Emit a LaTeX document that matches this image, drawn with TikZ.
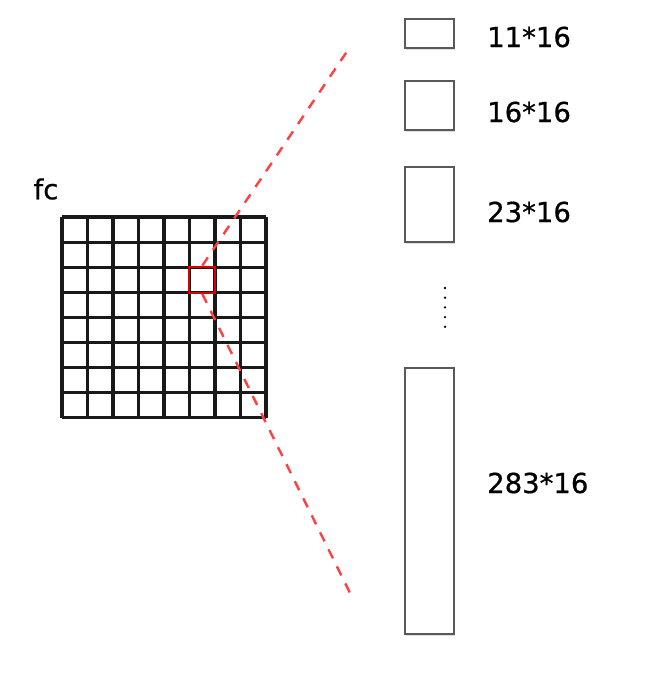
\documentclass[tikz,border=0pt]{standalone}
\usepackage{fontspec}
\setmainfont{DejaVu Sans}
\newfontfamily\lblfont{DejaVu Sans}[FakeBold=0.7]
\usetikzlibrary{positioning, shadows}

\begin{document}
\begin{tikzpicture}[x=1pt, y=-1pt,
    gridline/.style={line width=3.1pt, black!90},
    focus/.style={draw=red!85!black, line width=2.2pt, minimum size=26pt, inner sep=0pt},
    zoomline/.style={dashed, dash pattern=on 10pt off 9pt, line width=2.4pt, red!75!white},
    fcbox/.style={draw=black!65, line width=1.8pt, fill=white, minimum width=49pt, inner sep=0pt,
        drop shadow={shadow xshift=0.6pt, shadow yshift=-1.6pt, opacity=0.25}},
    lbl/.style={anchor=west, inner sep=0pt, font=\lblfont\fontsize{27.5}{32}\selectfont},
    dot/.style={fill=black, circle, minimum size=2.6pt, inner sep=0pt}
]
\useasboundingbox (0,0) rectangle (650,674);
\def\xGrid{62}
\def\yGrid{217}
\def\cellW{25.5}
\def\cellH{25.1}
\def\xBox{429.5}
\def\xLbl{487}

% fc map label
\node[lbl, anchor=center] (fc) at (46,189) {fc};

% 8x8 grid
\foreach \i in {0,...,8} {
    \draw[gridline] (\xGrid + \i*\cellW, \yGrid) -- ++(0, 8*\cellH);
    \draw[gridline] (\xGrid, \yGrid + \i*\cellH) -- ++(8*\cellW, 0);
}

% highlighted cell
\node[focus] (hot) at (\xGrid + 5.5*\cellW, \yGrid + 2.5*\cellH) {};

% zoom lines
\coordinate (topEnd) at (348,50);
\coordinate (botEnd) at (352,597);
\draw[zoomline] (hot.north) -- (topEnd);
\draw[zoomline] (hot.south) -- (botEnd);

% kernels
\node[fcbox, minimum height=29pt]  (k11)  at (\xBox, 33.5) {};
\node[fcbox, minimum height=49pt]  (k16)  at (\xBox, 105.5) {};
\node[fcbox, minimum height=75pt]  (k23)  at (\xBox, 204.5) {};
\node[fcbox, minimum height=266pt] (k283) at (\xBox, 501) {};

\node[lbl] (l11)  at (\xLbl, 37)  {11*16};
\node[lbl] (l16)  at (\xLbl, 112) {16*16};
\node[lbl] (l23)  at (\xLbl, 212) {23*16};
\node[lbl] (l283) at (\xLbl, 483) {283*16};

% vertical ellipsis
\foreach \j in {0,...,4} {
    \node[dot] (d\j) at (445, 288 + \j*9.7) {};
}
\end{tikzpicture}
\end{document}
